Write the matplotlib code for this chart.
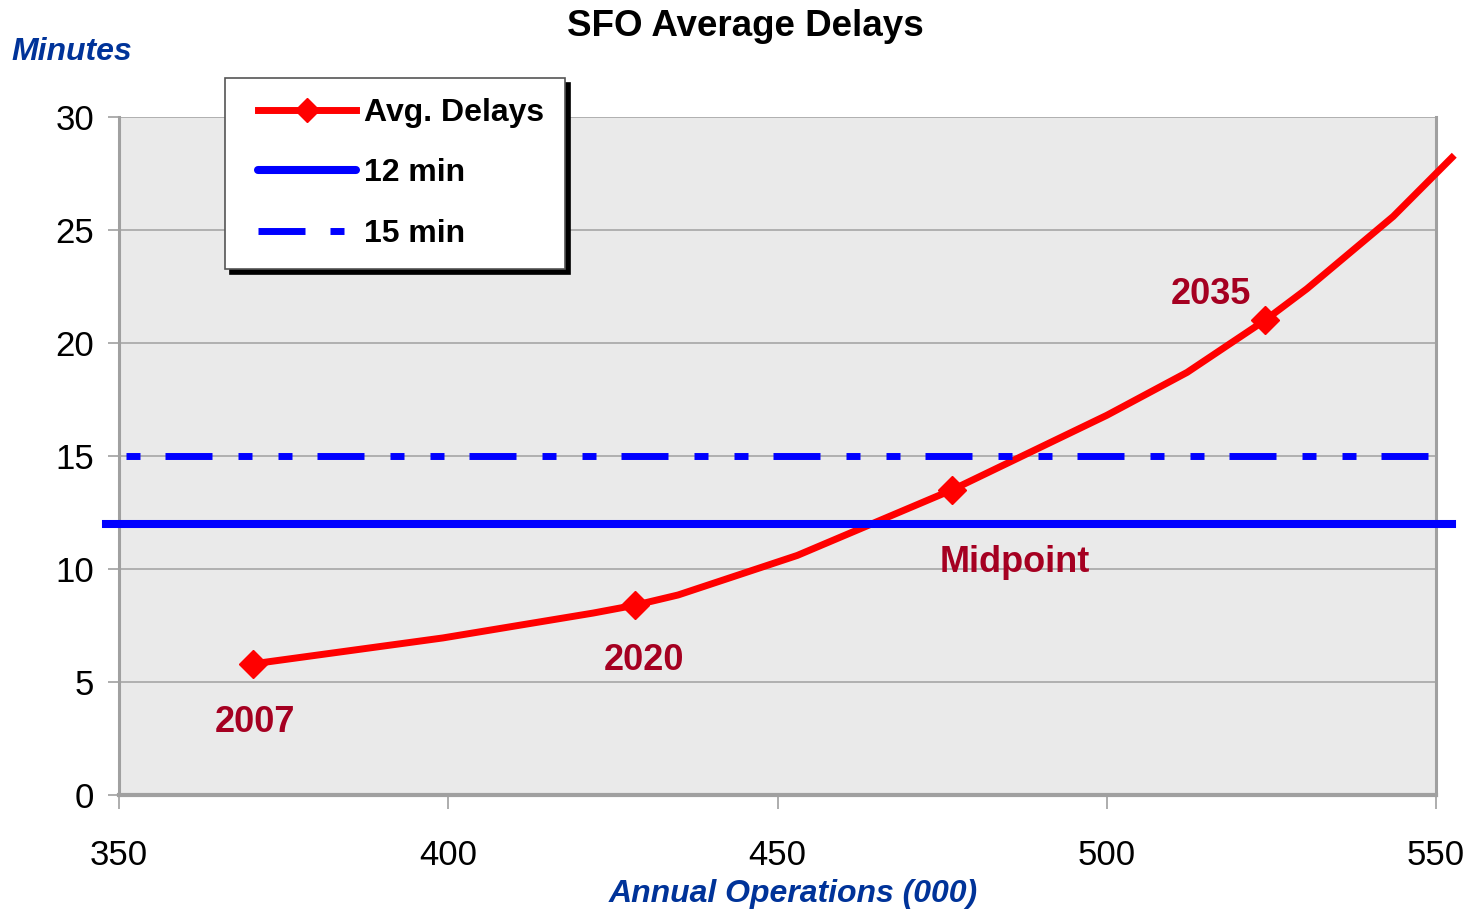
"""
SFO average delays vs. annual operations.
"""

import matplotlib
matplotlib.use('Agg')
import matplotlib.pyplot as plt
from matplotlib.lines import Line2D
from matplotlib.legend_handler import HandlerLine2D

# Avg. delay curve (annual operations in thousands, delay in minutes)
ops = [370.3, 399.2, 422.0, 428.4, 434.9, 453.0, 476.5, 500.0, 512.2, 524.0, 530.4, 543.5, 552.4]
delays = [5.8, 6.95, 8.05, 8.4, 8.85, 10.6, 13.5, 16.8, 18.7, 21.0, 22.4, 25.6, 28.2]
marker_idx = [0, 3, 6, 9]
marker_labels = ['2007', '2020', 'Midpoint', '2035']

# Reference thresholds
limit_12 = 12
limit_15 = 15

x_ticks = [350, 400, 450, 500, 550]
y_ticks = [0, 5, 10, 15, 20, 25, 30]

plt.rcParams['lines.scale_dashes'] = False

NARROW = ['Liberation Sans Narrow', 'Liberation Sans', 'DejaVu Sans']
ARIAL = ['Liberation Sans', 'DejaVu Sans']
RED = '#FF0000'
BLUE = '#0000FF'
DARK_RED = '#A50021'
NAVY = '#003399'
GRAY = '#A0A0A0'

fig = plt.figure(figsize=(14.68, 9.10), dpi=100)
ax = fig.add_axes([0.0811, 0.1264, 0.8971, 0.745])
ax.set_facecolor('#EAEAEA')

# px -> pt helper for dash pattern (dpi 100)
pt = lambda px: px * 0.72
dash_15 = (pt(145), (pt(14), pt(25), pt(47), pt(26), pt(14), pt(26)))

ax.plot(ops, delays, color=RED, lw=5, marker='D', ms=14.5,
        markevery=marker_idx, clip_on=False, zorder=3, solid_joinstyle='round')
ax.axhline(limit_12, xmin=-0.0099, xmax=1.012, color=BLUE, lw=5.8,
           clip_on=False, zorder=4)
ax.axhline(limit_15, xmin=0.0, xmax=1.012, color=BLUE, lw=5,
           linestyle=dash_15, clip_on=False, zorder=4)

for i, lab in zip(marker_idx, marker_labels):
    off = {'2007': (1.5, -42), '2020': (6.5, -40),
           'Midpoint': (45, -52), '2035': (-39, 19)}[lab]
    ax.annotate(lab, (ops[i], delays[i]), xytext=off, textcoords='offset points',
                ha='center', va='center', fontsize=26, fontweight='bold',
                color=DARK_RED, family=NARROW, zorder=5)

ax.set_xlim(350, 550)
ax.set_ylim(0, 30)
ax.set_xticks(x_ticks)
ax.set_yticks(y_ticks)
ax.grid(axis='y', color=GRAY, lw=1.1)
ax.set_axisbelow(True)
ax.tick_params(axis='both', colors=GRAY, labelcolor='black', width=1.2)
ax.tick_params(axis='y', length=8, pad=10, labelsize=25)
ax.tick_params(axis='x', length=10, pad=22, labelsize=25)
for lbl in ax.get_xticklabels() + ax.get_yticklabels():
    lbl.set_family(NARROW)

ax.spines['top'].set_visible(False)
ax.spines['left'].set_color(GRAY)
ax.spines['left'].set_linewidth(2.2)
ax.spines['right'].set_color(GRAY)
ax.spines['right'].set_linewidth(2.2)
ax.spines['bottom'].set_color(GRAY)
ax.spines['bottom'].set_linewidth(3)

fig.text(0.508, 0.971, 'SFO Average Delays', ha='center', va='center',
         fontsize=26.5, fontweight='bold', family=ARIAL)
fig.text(0.049, 0.943, 'Minutes', ha='center', va='center', fontsize=23,
         fontweight='bold', style='italic', color=NAVY, family=ARIAL)
fig.text(0.540, 0.018, 'Annual Operations (000)', ha='center', va='center',
         fontsize=23, fontweight='bold', style='italic', color=NAVY, family=ARIAL)

# Legend with proxy handles so the dash pattern starts at the long dash
handles = [
    Line2D([], [], color=RED, lw=5, marker='D', ms=12),
    Line2D([], [], color=BLUE, lw=5.8, solid_capstyle='round'),
    Line2D([], [], color=BLUE, lw=5, linestyle=(0, (pt(47), pt(25), pt(14), pt(100)))),
]
leg = fig.legend(handles, ['Avg. Delays', '12 min', '15 min'],
                 loc='upper left', bbox_to_anchor=(0.1533, 0.9143),
                 bbox_transform=fig.transFigure, borderaxespad=0,
                 prop={'family': NARROW, 'weight': 'bold', 'size': 23},
                 handlelength=3.47, handletextpad=0.26, labelspacing=0.95,
                 borderpad=0.63, fancybox=False, framealpha=1,
                 handler_map={Line2D: HandlerLine2D(xpad=0.41)},
                 shadow={'color': 'black', 'alpha': 1, 'ox': 3.6, 'oy': -3.6})
leg.get_frame().set_edgecolor('#555555')
leg.get_frame().set_linewidth(1.2)

fig.savefig('out.png', dpi=100)
